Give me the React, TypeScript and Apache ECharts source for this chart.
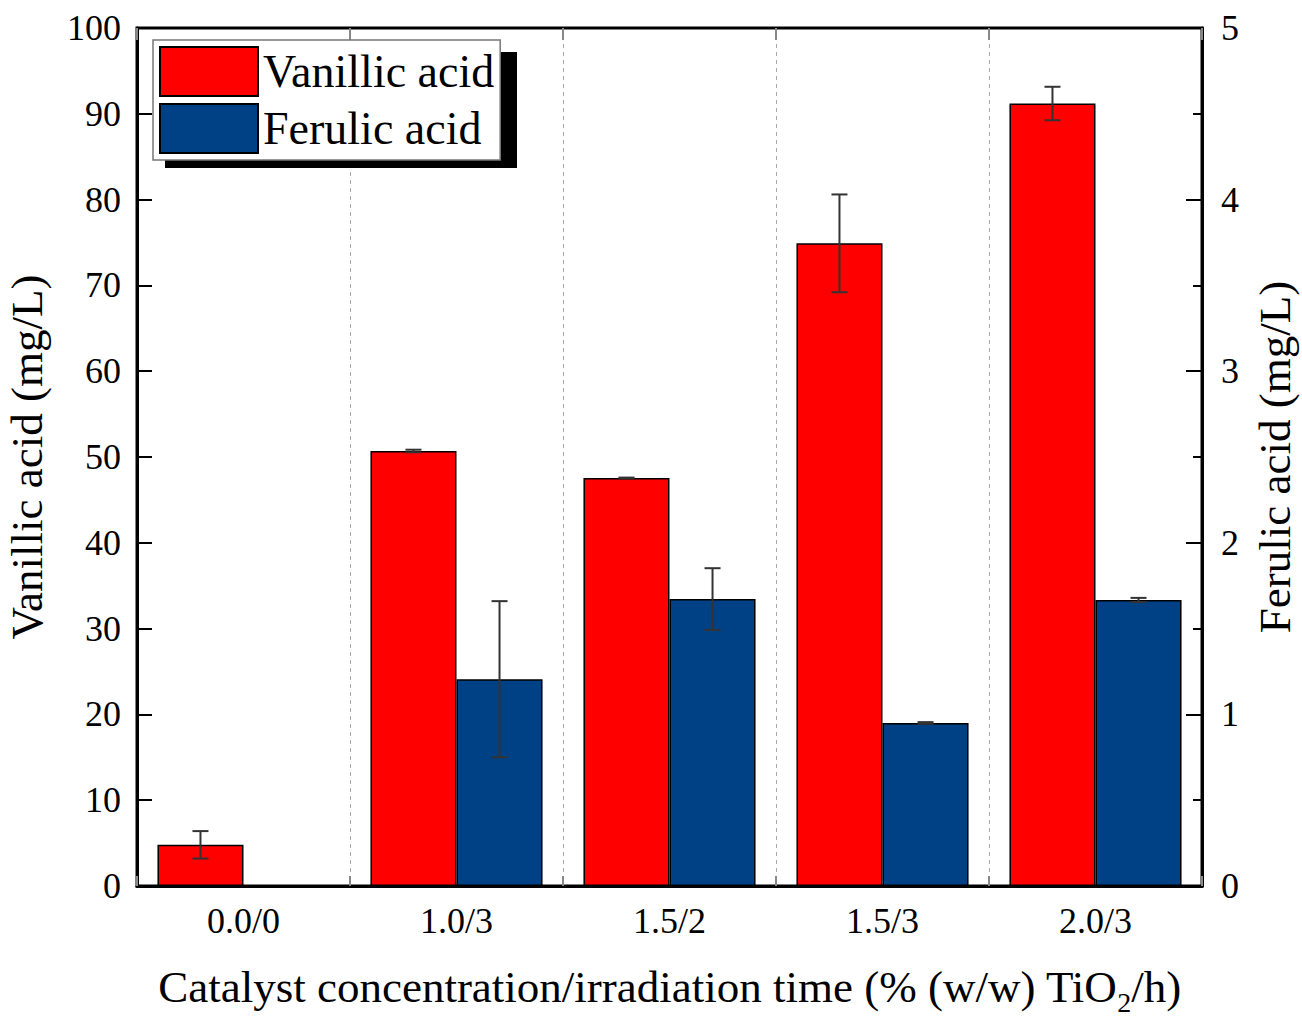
import React, { useEffect, useRef } from "react";
import * as echarts from "echarts";

const categories = ["0.0/0", "1.0/3", "1.5/2", "1.5/3", "2.0/3"];
const vanillic = [4.8, 50.7, 47.55, 74.9, 91.2];
const vanillicErr = [1.6, 0.15, 0.05, 5.7, 1.95];
const ferulic = [0, 1.205, 1.672, 0.95, 1.667];
const ferulicErr = [0, 0.455, 0.18, 0.005, 0.012];
const leftTicks = { min: 0, max: 100, interval: 10 };
const rightTicks = { min: 0, max: 5, interval: 1 };

const FONT = "Liberation Serif";

function errorSeries(name: string, values: number[], errs: number[], yAxisIndex: number, side: number) {
  const data = values.map((v, i) => [i, v - errs[i], v + errs[i], errs[i]]);
  return {
    type: "custom",
    name: name + "-err",
    xAxisIndex: 0,
    yAxisIndex,
    z: 5,
    silent: true,
    encode: { x: 0, y: [1, 2] },
    data,
    renderItem: (params: any, api: any) => {
      if (api.value(3) === 0) return null;
      const idx = api.value(0);
      const lo = api.coord([idx, api.value(1)]);
      const hi = api.coord([idx, api.value(2)]);
      const band = api.size([1, 0])[0];
      const x = lo[0] + side * band * 0.202;
      const cap = 8;
      const style = { stroke: "#333", lineWidth: 2 };
      return {
        type: "group",
        children: [
          { type: "line", shape: { x1: x, y1: lo[1], x2: x, y2: hi[1] }, style },
          { type: "line", shape: { x1: x - cap, y1: lo[1], x2: x + cap, y2: lo[1] }, style },
          { type: "line", shape: { x1: x - cap, y1: hi[1], x2: x + cap, y2: hi[1] }, style },
        ],
      };
    },
  };
}

export default function App() {
  const ref = useRef<HTMLDivElement>(null);
  useEffect(() => {
    if (!ref.current) return;
    const chart = echarts.init(ref.current, null, { renderer: "svg" });
    const labelStyle = { fontFamily: FONT, fontSize: 36, color: "#000" };
    chart.setOption({
      animation: false,
      backgroundColor: "#fff",
      textStyle: { fontFamily: FONT },
      grid: {
        left: 137,
        right: 100,
        top: 28,
        bottom: 130,
        outerBoundsMode: "none",
        containLabel: false,
        show: true,
        borderColor: "#000",
        borderWidth: 3,
        backgroundColor: "transparent",
      },
      legend: {
        show: true,
        left: 153,
        top: 40,
        orient: "vertical",
        data: ["Vanillic acid", "Ferulic acid"],
        itemWidth: 98,
        itemHeight: 49,
        itemGap: 6,
        padding: [6, 6, 6, 6],
        itemTextGap: 14,
        icon: "rect",
        backgroundColor: "#fff",
        borderColor: "#777",
        borderWidth: 1.5,
        z: 6,
        textStyle: { fontFamily: FONT, fontSize: 46, color: "#000" },
      },
      graphic: [
        {
          type: "rect",
          z: 5,
          shape: { x: 165, y: 52, width: 352, height: 116 },
          style: { fill: "#000" },
        },
      ],
      xAxis: [
        {
          type: "category",
          data: categories,
          position: "bottom",
          boundaryGap: true,
          axisLine: { onZero: false, lineStyle: { color: "#000", width: 3 } },
          axisTick: { show: false },
          splitLine: { show: true, lineStyle: { color: "#aaa", width: 1, type: [4, 4] } },
          axisLabel: { ...labelStyle, margin: 17 },
          name: "Catalyst concentration/irradiation time (% (w/w) TiO{sub|2}/h)",
          nameLocation: "middle",
          nameGap: 72,
          nameTextStyle: {
            fontFamily: FONT,
            fontSize: 45,
            color: "#000",
            rich: {
              sub: { fontFamily: FONT, fontSize: 28, color: "#000", padding: [30, 0, 0, 0] },
            },
          },
        },
        {
          type: "category",
          data: categories,
          position: "bottom",
          boundaryGap: true,
          axisLine: { show: false, onZero: false },
          axisTick: { show: true, inside: true, length: 10, lineStyle: { color: "#888", width: 2 } },
          splitLine: { show: false },
          axisLabel: { show: false },
        },
        {
          type: "category",
          data: categories,
          position: "top",
          boundaryGap: true,
          axisLine: { show: false, onZero: false },
          axisTick: { show: true, inside: true, length: 12, lineStyle: { color: "#888", width: 2 } },
          splitLine: { show: false },
          axisLabel: { show: false },
        },
      ],
      yAxis: [
        {
          type: "value",
          ...leftTicks,
          position: "left",
          axisLine: { show: true, lineStyle: { color: "#000", width: 3 } },
          axisTick: { show: true, inside: true, length: 15, lineStyle: { color: "#000", width: 2 } },
          splitLine: { show: false },
          axisLabel: { ...labelStyle, margin: 16 },
          name: "Vanillic acid (mg/L)",
          nameLocation: "middle",
          nameGap: 88,
          nameRotate: 90,
          nameTextStyle: { fontFamily: FONT, fontSize: 45, color: "#000" },
        },
        {
          type: "value",
          ...rightTicks,
          position: "right",
          axisLine: { show: true, lineStyle: { color: "#000", width: 3 } },
          axisTick: { show: true, inside: true, length: 16, lineStyle: { color: "#000", width: 2 } },
          minorTick: { show: true, splitNumber: 2, length: 9, lineStyle: { color: "#000", width: 2 } },
          splitLine: { show: false },
          axisLabel: { ...labelStyle, margin: 19 },
          name: "Ferulic acid (mg/L)",
          nameLocation: "middle",
          nameGap: 50,
          nameRotate: 90,
          nameTextStyle: { fontFamily: FONT, fontSize: 45, color: "#000" },
        },
      ],
      series: [
        {
          type: "bar",
          name: "Vanillic acid",
          data: vanillic,
          xAxisIndex: 0,
          yAxisIndex: 0,
          barWidth: "40.4%",
          barGap: "0%",
          itemStyle: { color: "#ff0000", borderColor: "#000", borderWidth: 1.5 },
        },
        {
          type: "bar",
          name: "Ferulic acid",
          data: ferulic,
          xAxisIndex: 0,
          yAxisIndex: 1,
          barWidth: "40.4%",
          barGap: "0%",
          itemStyle: { color: "#004185", borderColor: "#000", borderWidth: 1.5 },
        },
        errorSeries("Vanillic acid", vanillic, vanillicErr, 0, -1),
        errorSeries("Ferulic acid", ferulic, ferulicErr, 1, 1),
      ],
    });
    return () => chart.dispose();
  }, []);
  return <div ref={ref} style={{ width: 1302, height: 1016, position: "absolute", left: 0, top: 0 }} />;
}
